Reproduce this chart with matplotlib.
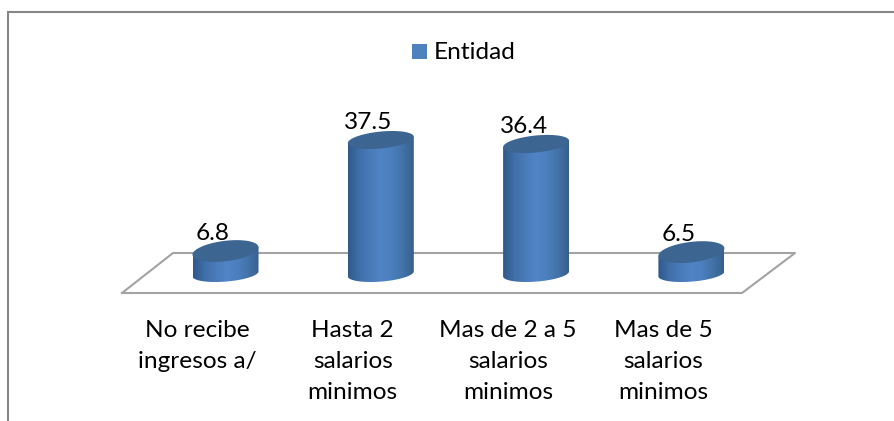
import numpy as np
import matplotlib
matplotlib.use("Agg")
import matplotlib.pyplot as plt
from matplotlib.colors import LinearSegmentedColormap
from matplotlib.patches import Polygon, Rectangle

categories = ["No recibe\ningresos a/", "Hasta 2\nsalarios\nminimos",
              "Mas de 2 a 5\nsalarios\nminimos", "Mas de 5\nsalarios\nminimos"]
values = [6.8, 37.5, 36.4, 6.5]
value_labels = ["6.8", "37.5", "36.4", "6.5"]
series_name = "Entidad"

W, H = 894, 421
PX = 72 / 100
plt.rcParams["font.family"] = ["Lato", "DejaVu Sans"]
FS = 17.6

fig = plt.figure(figsize=(W / 100, H / 100), dpi=100, facecolor="white")
ax = fig.add_axes([0, 0, 1, 1])
X0, XS, Y0, YS = 225.5, 155.3, 275.6, 3.616
ax.set_xlim(-X0 / XS, (W - X0) / XS)
ax.set_ylim((Y0 - H) / YS, Y0 / YS)
ax.axis("off")


def to_data(px, py):
    """Pixel offsets (y down from the top) to data coordinates."""
    return (np.asarray(px) - X0) / XS, (Y0 - np.asarray(py)) / YS


# frame: only the top and left edges are visible
fx, fy = to_data([8, 8, W], [H, 11.5, 11.5])
ax.plot(fx, fy, color="#868686", lw=1.5, solid_joinstyle="miter", zorder=1)

# floor
fx, fy = to_data([122, 742, 795, 173, 122], [293, 293, 253, 253, 293])
ax.plot(fx, fy, color="#a3a3a3", lw=1.5, zorder=1)

cmap = LinearSegmentedColormap.from_list(
    "cyl", ["#31598a", "#3f6ea8", "#4a7bb9", "#5084c6", "#4c7fbe", "#4272a8", "#385f8e"])
grad = np.linspace(0, 1, 128).reshape(1, -1)
RX = 33.0
BASE_PX = 273.8
RY_BOT = 7.8
SHEAR_BOT = 0.076

for i, v in enumerate(values):
    cx_px = X0 + i * XS
    top_px = Y0 - v * YS
    h = BASE_PX - top_px
    ry_top = 10.6 - 2.1 * h / 130
    shear = 0.115 - 0.02 * h / 130
    t = np.linspace(0, np.pi, 80)
    xr = RX * np.cos(t)
    lower = BASE_PX - SHEAR_BOT * xr + RY_BOT * np.sin(t)
    upper = top_px - shear * xr[::-1]
    bx = np.r_[cx_px + xr, cx_px + xr[::-1]]
    by = np.r_[lower, upper]
    dx, dy = to_data(bx, by)
    body = Polygon(np.c_[dx, dy], closed=True, facecolor="none", edgecolor="none", zorder=3)
    ax.add_patch(body)
    ex0, _ = to_data(cx_px - RX, 0)
    ex1, _ = to_data(cx_px + RX, 0)
    _, ey1 = to_data(0, top_px - 30)
    im = ax.imshow(grad, cmap=cmap, aspect="auto", zorder=3,
                   extent=[ex0, ex1, (Y0 - BASE_PX - 15) / YS, ey1])
    im.set_clip_path(body)
    t2 = np.linspace(0, 2 * np.pi, 160)
    ex = RX * np.cos(t2)
    ey = top_px - shear * ex + ry_top * np.sin(t2)
    tx, ty = to_data(cx_px + ex, ey)
    ax.add_patch(Polygon(np.c_[tx, ty], closed=True, facecolor="#3c6591",
                         edgecolor="none", zorder=4))
    ax.annotate(value_labels[i], xy=(i, v), xytext=(-12.5 * PX, 7 * PX),
                textcoords="offset points", ha="center", va="bottom",
                fontsize=FS, color="#000000", zorder=5)
    ax.annotate(categories[i], xy=(i, 0), xytext=(-28 * PX, -44 * PX),
                textcoords="offset points", ha="center", va="top",
                fontsize=FS, color="#000000", linespacing=1.6,
                multialignment="center", zorder=5)

ax.set_xlim(-X0 / XS, (W - X0) / XS)
ax.set_ylim((Y0 - H) / YS, Y0 / YS)

# legend
lx, ly = to_data(412, 59)
ax.add_patch(Rectangle((lx, ly), 15 / XS, 15 / YS, facecolor="#4f81bd",
                       edgecolor="none", zorder=5))
tx, ty = to_data(434, 52)
ax.text(tx, ty, series_name, ha="left", va="center", fontsize=FS, color="#000000", zorder=5)

fig.savefig("out.png", dpi=100, facecolor="white")
